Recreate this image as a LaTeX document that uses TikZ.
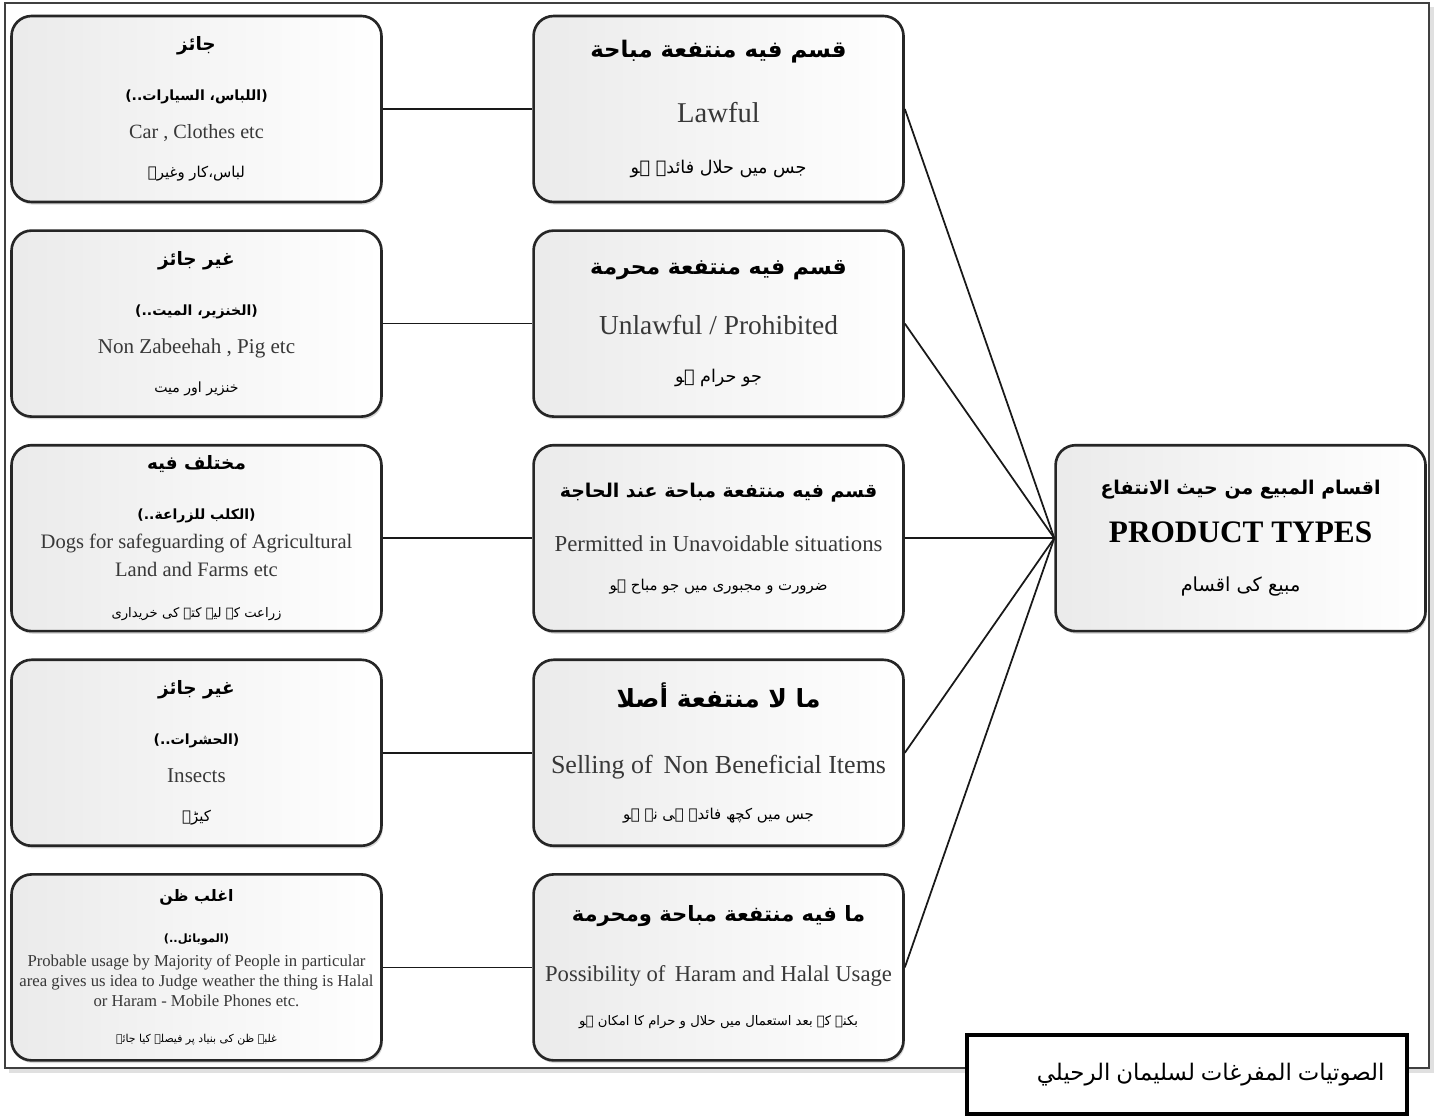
\documentclass[tikz,border=0pt]{standalone}
\usepackage{fontspec}
\setmainfont{Liberation Serif}
\newfontfamily\arabicfont[Script=Arabic]{DejaVu Sans}
\TeXXeTstate=1
\usepackage{tikz}
\usetikzlibrary{positioning,shadows}

\newcommand{\arbf}[1]{\arabicfont\bfseries\fontsize{#1}{#1}\selectfont}
\newcommand{\arrm}[1]{\arabicfont\fontsize{#1}{#1}\selectfont}
\newcommand{\ensz}[1]{\color{black!78}\fontsize{#1}{#1}\selectfont}

\begin{document}
\begin{tikzpicture}[x=0.02cm, y=-0.02cm,
                    catbox/.style={rectangle, rounded corners=0.4cm, draw=black!85, line width=1.5pt,
                                   minimum width=7.40cm, minimum height=3.72cm, align=center,
                                   left color=black!8, middle color=black!1, right color=white,
                                   drop shadow={shadow xshift=0.8pt, shadow yshift=-1.5pt, opacity=0.3}},
                    leftnode/.style={catbox, font=\fontsize{10}{21.5}\selectfont},
                    midnode/.style={catbox, font=\fontsize{10}{25}\selectfont},
                    creditnode/.style={rectangle, draw=black, line width=2.2pt, fill=white,
                                       minimum height=1.58cm, inner xsep=0.45cm, text width=7.9cm, align=right},
                    link/.style={draw=black!90, line width=1pt},
                    node distance=0.52cm and 2.99cm]
    \useasboundingbox (0,0) rectangle (1434,1116);
    % outer frame
    \draw[black!12, line width=2.5pt] (9,1071) -- (1432,1071) -- (1432,7);
    \draw[black!75, line width=1.4pt] (5,3) rectangle (1429,1068);

    % left column
    \node[leftnode] (jaiz) at (196.5,109) {{\arbf{10.5}\beginR جائز\endR}\\[7pt]
        {\arbf{8}\beginR (اللباس، السيارات..)\endR}\\
        {\ensz{11.5}Car , Clothes etc}\\[1pt]
        {\arrm{8.5}\beginR لباس،کار وغیرہ\endR}};
    \node[leftnode] (ghairjaiz) [below=of jaiz] {{\arbf{10.5}\beginR غير جائز\endR}\\[7pt]
        {\arbf{8}\beginR (الخنزير، الميت..)\endR}\\
        {\ensz{12}Non Zabeehah , Pig etc}\\[1pt]
        {\arrm{8}\beginR خنزیر اور میت\endR}};
    \node[leftnode] (mukhtalif) [below=of ghairjaiz] {{\arbf{10.5}\beginR مختلف فيه\endR}\\[7pt]
        {\arbf{8}\beginR (الكلب للزراعة..)\endR}\\[-5pt]
        {\ensz{11.7}Dogs for safeguarding of Agricultural}\\[-6pt]
        {\ensz{11.7}Land and Farms etc}\\[2pt]
        {\arrm{7.5}\beginR زراعت کے لیے کتے کی خریداری\endR}};
    \node[leftnode] (hasharat) [below=of mukhtalif] {{\arbf{10.5}\beginR غير جائز\endR}\\[7pt]
        {\arbf{8}\beginR (الحشرات..)\endR}\\
        {\ensz{12}Insects}\\[1pt]
        {\arrm{8.5}\beginR کیڑے\endR}};
    \node[leftnode, font=\fontsize{9}{11.5}\selectfont] (ghalib) [below=of hasharat] {{\arbf{9}\beginR اغلب ظن\endR}\\[11.8pt]
        {\arbf{6.5}\beginR (الموبائل..)\endR}\\[2.2pt]
        {\ensz{9.5}Probable usage by Majority of People in particular}\\
        {\ensz{9.5}area gives us idea to Judge weather the thing is Halal}\\
        {\ensz{9.5}or Haram - Mobile Phones etc.}\\[9pt]
        {\arrm{6.2}\beginR غلبہ ظن کی بنیاد پر فیصلہ کیا جائے\endR}};

    % middle column
    \node[midnode] (mubah) [right=of jaiz] {{\arbf{13}\beginR قسم فيه منتفعة مباحة\endR}\\[12pt]
        {\ensz{16.3}Lawful}\\[4pt]
        {\arrm{10}\beginR جس میں حلال فائدہ ہو\endR}};
    \node[midnode] (muharram) [right=of ghairjaiz] {{\arbf{12.5}\beginR قسم فيه منتفعة محرمة\endR}\\[9pt]
        {\ensz{15.6}Unlawful / Prohibited}\\[2pt]
        {\arrm{10}\beginR جو حرام ہو\endR}};
    \node[midnode] (hajah) [right=of mukhtalif] {{\arbf{10.8}\beginR قسم فيه منتفعة مباحة عند الحاجة\endR}\\[6pt]
        {\ensz{13}Permitted in Unavoidable situations}\\[-3pt]
        {\arrm{8.5}\beginR ضرورت و مجبوری میں جو مباح ہو\endR}};
    \node[midnode] (lamanfaah) [right=of hasharat] {{\arbf{14.2}\beginR ما لا منتفعة أصلا\endR}\\[13pt]
        {\ensz{14.8}Selling of\, Non Beneficial Items}\\[1pt]
        {\arrm{8.5}\beginR جس میں کچھ فائدہ ہی نہ ہو\endR}};
    \node[midnode] (mixed) [right=of ghalib] {{\arbf{12}\beginR ما فيه منتفعة مباحة ومحرمة\endR}\\[9pt]
        {\ensz{12.9}Possibility of\, Haram and Halal Usage}\\[0pt]
        {\arrm{7.5}\beginR بکنے کے بعد استعمال میں حلال و حرام کا امکان ہو\endR}};

    % root
    \node[midnode] (types) [right=of hajah] {{\arbf{10.8}\beginR اقسام المبيع من حيث الانتفاع\endR}\\[2pt]
        {\bfseries\fontsize{17.8}{17.8}\selectfont PRODUCT TYPES}\\[3pt]
        {\arrm{11}\beginR مبیع کی اقسام\endR}};

    \draw[link] (jaiz.east) -- (mubah.west);
    \draw[link] (ghairjaiz.east) -- (muharram.west);
    \draw[link] (mukhtalif.east) -- (hajah.west);
    \draw[link] (hasharat.east) -- (lamanfaah.west);
    \draw[link] (ghalib.east) -- (mixed.west);
    \draw[link] (mubah.east) -- (types.west);
    \draw[link] (muharram.east) -- (types.west);
    \draw[link] (hajah.east) -- (types.west);
    \draw[link] (lamanfaah.east) -- (types.west);
    \draw[link] (mixed.east) -- (types.west);

    \node[creditnode] (credit) at (1187,1074.5) {{\arrm{13}\beginR الصوتيات المفرغات لسليمان الرحيلي\endR}};
\end{tikzpicture}
\end{document}
